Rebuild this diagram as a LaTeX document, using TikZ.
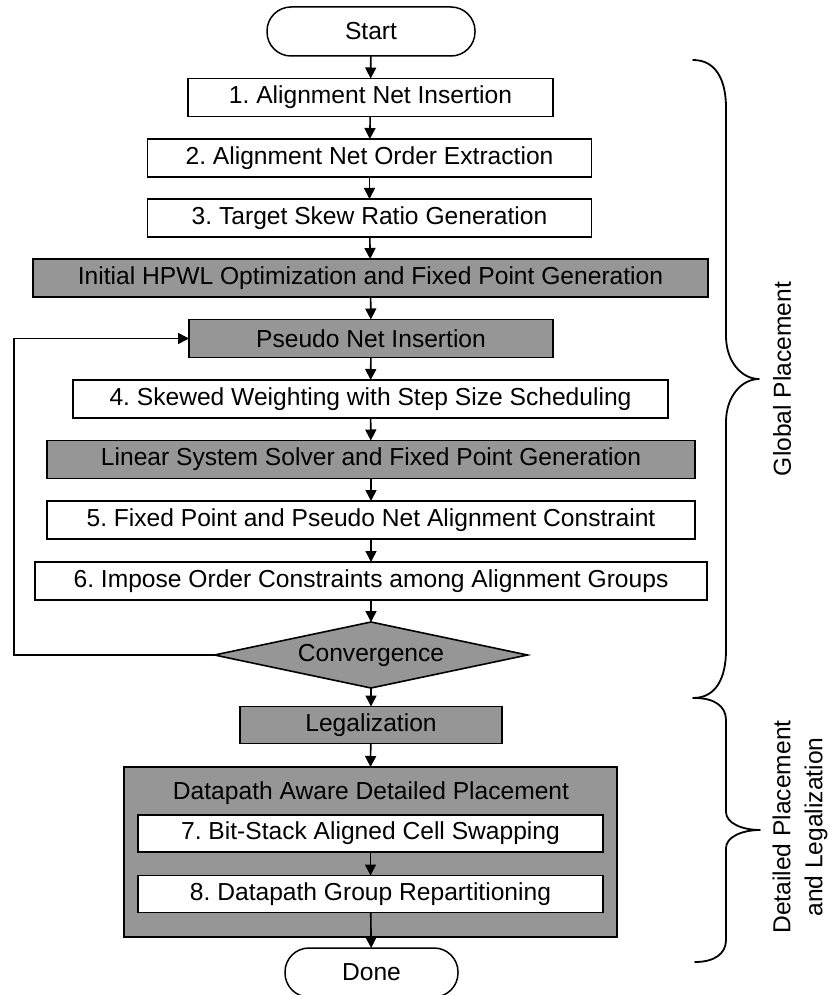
\documentclass[tikz,border=0pt]{standalone}
\usepackage{fontspec}
\setmainfont{Liberation Sans}
\usetikzlibrary{arrows.meta,shapes.geometric}
\definecolor{boxgray}{RGB}{150,150,150}
\frenchspacing
\begin{document}
\begin{tikzpicture}[x=1pt,y=-1pt,
  font=\fontsize{24.6}{30}\selectfont,
  every node/.style={inner sep=0pt, outer sep=0pt},
  plainbox/.style={draw, line width=1.6pt, fill=white, minimum height=38pt},
  graybox/.style={draw, line width=1.6pt, fill=boxgray, minimum height=38pt},
  terminal/.style={draw, line width=1.5pt, fill=white, rounded corners=24pt, minimum height=49pt},
  decision/.style={draw, line width=1.6pt, fill=boxgray, diamond, shape aspect=4.7, minimum width=313pt, minimum height=66pt},
  flow/.style={line width=1.6pt, -{Triangle[length=11pt,width=11pt]}},
  brace/.style={line width=1.8pt, line cap=round, line join=round}
]
\useasboundingbox (0,0) rectangle (828,995);

% main flow
\node[terminal, minimum width=208pt] (start) at (371,31.5) {Start};
\node[plainbox, minimum width=365pt] (s1) at (370.5,97.5) {1. Alignment Net Insertion};
\node[plainbox, minimum width=444pt] (s2) at (369.5,158) {2. Alignment Net Order Extraction};
\node[plainbox, minimum width=444pt] (s3) at (369.5,218) {3. Target Skew Ratio Generation};
\node[graybox, minimum width=675pt] (hpwl) at (370.5,278) {Initial HPWL Optimization and Fixed Point Generation};
\node[graybox, minimum width=364pt] (pseudo) at (371,338.5) {Pseudo Net Insertion};
\node[plainbox, minimum width=595pt] (s4) at (370.5,399) {4. Skewed Weighting with Step Size Scheduling};
\node[graybox, minimum width=648pt] (solver) at (371,459.5) {Linear System Solver and Fixed Point Generation};
\node[plainbox, minimum width=648pt] (s5) at (371,520) {5. Fixed Point and Pseudo Net Alignment Constraint};
\node[plainbox, minimum width=672pt] (s6) at (371,581) {6. Impose Order Constraints among Alignment Groups};
\node[decision] (conv) at (371,655) {Convergence};
\node[graybox, minimum width=262pt, minimum height=37pt] (legal) at (371,725) {Legalization};

% detailed placement group
\node[graybox, minimum width=493pt, minimum height=170pt] (dp) at (370.5,852) {};
\node (dptitle) at (371,793) {Datapath Aware Detailed Placement};
\node[plainbox, minimum width=465pt, minimum height=37pt] (s7) at (370.5,833.5) {7. Bit-Stack Aligned Cell Swapping};
\node[plainbox, minimum width=465pt, minimum height=37pt] (s8) at (370.5,894) {8. Datapath Group Repartitioning};
\node[terminal, minimum width=173pt] (done) at (371.5,972.5) {Done};

% connectors
\draw[flow] (start) -- (s1);
\draw[flow] (s1) -- (s2);
\draw[flow] (s2) -- (s3);
\draw[flow] (s3) -- (hpwl);
\draw[flow] (hpwl) -- (pseudo);
\draw[flow] (pseudo) -- (s4);
\draw[flow] (s4) -- (solver);
\draw[flow] (solver) -- (s5);
\draw[flow] (s5) -- (s6);
\draw[flow] (s6) -- (conv);
\draw[flow] (conv) -- (legal);
\draw[flow] (legal) -- (dp.north);
\draw[flow] (s7) -- (s8);
\draw[flow] (s8) -- (done);
\coordinate (loop) at (14,338.5);
\draw[flow] (conv.west) -| (loop) -- (pseudo.west);

% braces
\draw[brace] (693,60) .. controls (716,60) and (726,80) .. (726,108)
  -- (726,336) .. controls (726,362) and (742,379) .. (759,379)
  .. controls (742,379) and (726,396) .. (726,422)
  -- (726,650) .. controls (726,678) and (716,698) .. (693,698);
\draw[brace] (695,698) .. controls (714,698) and (726,706) .. (726,720)
  -- (726,812) .. controls (726,823) and (742,830) .. (760,830)
  .. controls (742,830) and (726,837) .. (726,848)
  -- (726,940) .. controls (726,954) and (714,962) .. (695,962);

% phase labels
\node[rotate=90] (gplabel) at (782,379) {Global Placement};
\node[rotate=90, align=center, font=\fontsize{24.6}{32}\selectfont] (dplabel) at (800,827) {Detailed Placement\\and Legalization};
\end{tikzpicture}
\end{document}
